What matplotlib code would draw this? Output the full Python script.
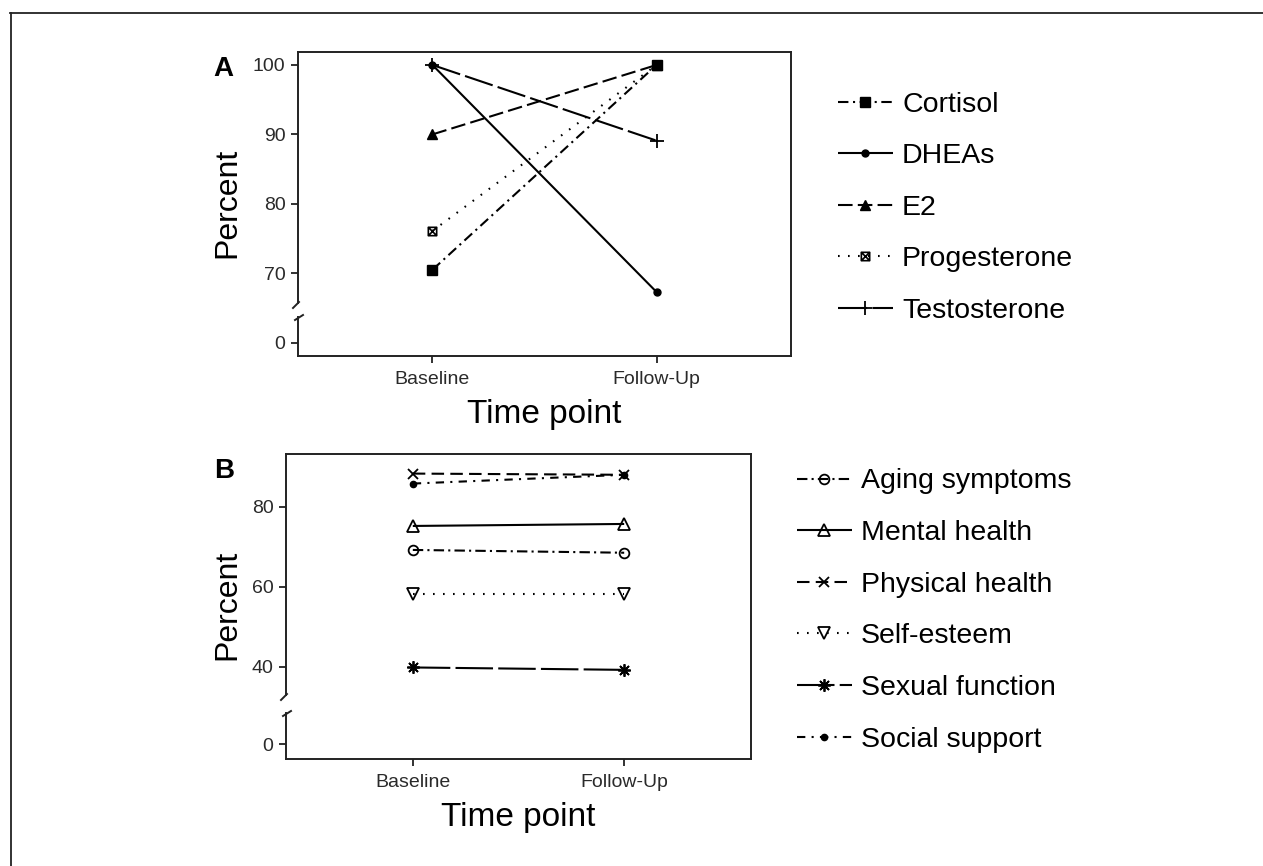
import matplotlib
matplotlib.use('Agg')
import matplotlib.pyplot as plt
from matplotlib.lines import Line2D
from matplotlib.path import Path
import numpy as np

plt.rcParams['font.family'] = ['Liberation Sans', 'DejaVu Sans']

W, H = 1263, 866
DPI = 100

# ---------------- data ----------------
time_points = ['Baseline', 'Follow-Up']

# Panel A (hormones)
hormones = ['Cortisol', 'DHEAs', 'E2', 'Progesterone', 'Testosterone']
cortisol = [70.5, 100.0]
dheas = [100.0, 67.3]
e2 = [90.0, 100.0]
progesterone = [76.1, 100.0]
testosterone = [100.0, 89.1]
yticks_a = [0, 70, 80, 90, 100]

# Panel B (quality-of-life domains)
domains = ['Aging symptoms', 'Mental health', 'Physical health',
           'Self-esteem', 'Sexual function', 'Social support']
aging = [69.2, 68.5]
mental = [75.2, 75.7]
physical = [88.3, 88.0]
self_esteem = [58.3, 58.3]
sexual = [39.8, 39.2]
social = [85.8, 88.0]
yticks_b = [0, 40, 60, 80]

# ---------------- styles ----------------
sq_cross = Path([(-1, -1), (1, -1), (1, 1), (-1, 1), (-1, -1),
                 (-1, -1), (1, 1), (-1, 1), (1, -1)],
                [Path.MOVETO, Path.LINETO, Path.LINETO, Path.LINETO, Path.CLOSEPOLY,
                 Path.MOVETO, Path.LINETO, Path.MOVETO, Path.LINETO])

styles_a = [
    dict(ls=(0, (5, 2.2, 1, 2.2)), marker='s', ms=7, mfc='k'),
    dict(ls='-', marker='o', ms=5, mfc='k'),
    dict(ls=(0, (7, 2.5)), marker='^', ms=6.5, mfc='k'),
    dict(ls=(0, (0.8, 4)), marker=sq_cross, ms=6, mfc='none', mew=1.2),
    dict(ls=(0, (14, 2.5)), marker='+', ms=10, mew=1.3),
]
styles_b = [
    dict(ls=(0, (5, 2, 1, 2)), marker='o', ms=7, mfc='none', mew=1.3),
    dict(ls='-', marker='^', ms=9, mfc='none', mew=1.3),
    dict(ls=(0, (6, 3)), marker='x', ms=6.5, mew=1.3),
    dict(ls=(0, (0.8, 4)), marker='v', ms=9, mfc='none', mew=1.3),
    dict(ls=(0, (18, 2.5)), marker=(8, 2, 0), ms=9, mew=1.3),
    dict(ls=(0, (4, 3, 1, 3)), marker='o', ms=4.5, mfc='k'),
]


def make_scale(T, z):
    k = (T - z) / T

    def fwd(v):
        v = np.asarray(v, dtype=float)
        return np.where(v >= T, v, z + v * k)

    def inv(y):
        y = np.asarray(y, dtype=float)
        return np.where(y >= T, y, (y - z) / k)
    return fwd, inv


def px_axes(l, t, r, b):
    return [l / W, 1 - b / H, (r - l) / W, (b - t) / H]


fig = plt.figure(figsize=(W / DPI, H / DPI), dpi=DPI)
fig.patch.set_facecolor('white')

# outer frame (top and left lines)
fig.add_artist(Line2D([10 / W, 1.0], [1 - 13 / H, 1 - 13 / H], color='#222222', lw=1.3))
fig.add_artist(Line2D([10.5 / W, 10.5 / W], [0, 1 - 13 / H], color='#222222', lw=1.3))


def draw_panel(box, series, labels, styles, yticks, T, z, ylo_f, yhi_f,
               brk_hi, brk_lo, letter, letter_xy, ylab_xy, xlab_xy, leg_xy):
    l, t, r, b = box
    ax = fig.add_axes(px_axes(l, t, r, b))
    fwd, inv = make_scale(T, z)
    ax.set_yscale('function', functions=(fwd, inv))
    handles = []
    for vals, lab, st in zip(series, labels, styles):
        h, = ax.plot(time_points, vals, color='k', lw=1.5, label=lab,
                     mec='k', solid_capstyle='butt', dash_capstyle='butt', **st)
        handles.append(h)
    ax.set_xlim(-0.6, 1.6)
    ax.set_ylim(float(inv(ylo_f)), yhi_f)
    ax.set_yticks(yticks)
    ax.set_yticklabels([str(v) for v in yticks])
    ax.yaxis.set_minor_locator(matplotlib.ticker.NullLocator())
    ax.tick_params(axis='both', direction='out', length=5, width=1.3,
                   labelsize=14, labelcolor='#2a2a2a', color='#222222')
    ax.tick_params(axis='y', pad=4)
    ax.tick_params(axis='x', pad=5.5)
    for s in ['top', 'right', 'bottom']:
        ax.spines[s].set_linewidth(1.4)
        ax.spines[s].set_color('#222222')
    ax.spines['left'].set_visible(False)
    hpx = b - t
    wpx = r - l
    fb_hi = (b - brk_hi) / hpx
    fb_lo = (b - brk_lo) / hpx
    kw = dict(color='#222222', lw=1.4, transform=ax.transAxes, clip_on=False)
    ax.add_line(Line2D([0, 0], [fb_hi, 1], **kw))
    ax.add_line(Line2D([0, 0], [0, fb_lo], **kw))
    ax.add_line(Line2D([1 / wpx, -5 / wpx], [fb_hi + 1 / hpx, fb_hi - 5 / hpx], **kw))
    ax.add_line(Line2D([-3 / wpx, 5 / wpx], [fb_lo - 3 / hpx, fb_lo + 2 / hpx], **kw))

    fig.text(letter_xy[0] / W, 1 - letter_xy[1] / H, letter, fontsize=20,
             fontweight='bold', ha='left', va='baseline')
    fig.text(ylab_xy[0] / W, 1 - ylab_xy[1] / H, 'Percent', fontsize=23,
             rotation=90, rotation_mode='anchor', ha='center', va='baseline')
    fig.text(xlab_xy[0] / W, 1 - xlab_xy[1] / H, 'Time point', fontsize=24,
             ha='center', va='baseline')
    fig.legend(handles=handles, labels=labels, loc='upper left',
               bbox_to_anchor=(leg_xy[0] / W, 1 - leg_xy[1] / H),
               frameon=False, fontsize=20.5, handlelength=1.93,
               handletextpad=0.32, labelspacing=0.9, borderpad=0,
               borderaxespad=0)
    return ax


draw_panel((298, 52, 791, 356),
           [cortisol, dheas, e2, progesterone, testosterone], hormones, styles_a,
           yticks_a, 62, 60, 58.08, 101.87, 303, 317,
           'A', (213, 76), (235, 203), (544.5, 422.7), (838, 91.5))

draw_panel((286, 454, 751, 759),
           [aging, mental, physical, self_esteem, sexual, social], domains, styles_b,
           yticks_b, 28, 20.6, 16.9, 93.2, 695, 713,
           'B', (214, 478), (235, 604.5), (518.5, 825.7), (797, 468.5))

fig.savefig('out.png', dpi=DPI, facecolor='white')
